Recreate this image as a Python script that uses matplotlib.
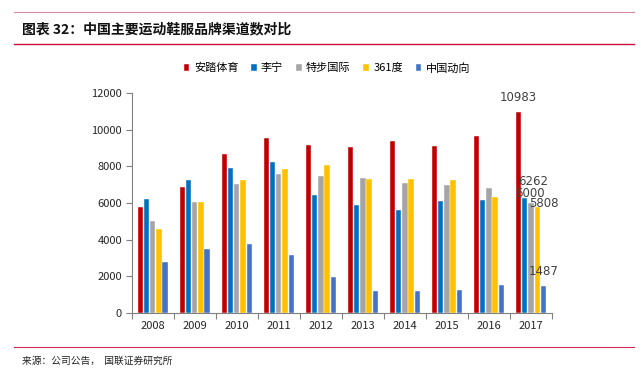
"""
Channel counts of major Chinese sportswear brands
"""

# Imports
import numpy as np
import matplotlib
matplotlib.use("Agg")
import matplotlib.pyplot as plt
from matplotlib.lines import Line2D

plt.rcParams['font.family'] = ['Noto Sans CJK SC', 'DejaVu Sans']

# Data
years = ["2008", "2009", "2010", "2011", "2012", "2013", "2014", "2015", "2016", "2017"]
brands = ["安踏体育", "李宁", "特步国际", "361度", "中国动向"]
anta = [5760, 6860, 8660, 9520, 9190, 9060, 9370, 9100, 9660, 10983]
lining = [6240, 7260, 7920, 8240, 6440, 5910, 5640, 6130, 6160, 6262]
xtep = [5020, 6070, 7060, 7600, 7500, 7350, 7110, 7000, 6800, 6000]
b361 = [4600, 6040, 7260, 7840, 8060, 7300, 7330, 7240, 6350, 5808]
dongxiang = [2790, 3500, 3740, 3140, 1970, 1190, 1190, 1240, 1530, 1487]
colors = ["#C00000", "#0070C0", "#A5A5A5", "#FFC000", "#4472C4"]

series = [anta, lining, xtep, b361, dongxiang]

# Figure
W, H = 641, 375
fig = plt.figure(figsize=(W / 100, H / 100), dpi=100)
ax = fig.add_axes([131.7 / W, 1 - 313 / H, (552 - 131.7) / W, (313 - 93) / H])

x = np.arange(len(years))
step = 0.148
width = 0.128
for j, (name, vals) in enumerate(zip(brands, series)):
    ax.bar(x + (j - 2) * step, vals, width=width, color=colors[j], label=name,
           edgecolor="white", linewidth=0.3)

# 2017 data labels
last = len(years) - 1
labelParams = {"fontsize": 8.5, "color": "#404040", "ha": "center", "va": "center",
               "family": ["DejaVu Sans"], "textcoords": "offset points"}
ax.annotate(str(anta[last]), (last - 2 * step, anta[last]), xytext=(0, 10), **labelParams)
ax.annotate(str(lining[last]), (last - step, lining[last]), xytext=(6, 12), **labelParams)
ax.annotate(str(xtep[last]), (last, xtep[last]), xytext=(-1, 7), **labelParams)
ax.annotate(str(b361[last]), (last + step, b361[last]), xytext=(5, 2), **labelParams)
ax.annotate(str(dongxiang[last]), (last + 2 * step, dongxiang[last]), xytext=(0, 10), **labelParams)

# Axes styling
ax.set_xlim(-0.5, len(years) - 0.5)
ax.set_ylim(0, 12000)
ax.set_yticks(np.arange(0, 12001, 2000))
ax.set_xticks(np.arange(-0.5, len(years), 1.0))
ax.set_xticklabels([])
ax.set_xticks(x, minor=True)
ax.set_xticklabels(years, minor=True)
ax.tick_params(axis="x", which="minor", length=0, pad=6, labelsize=8, labelcolor="#262626")
ax.tick_params(axis="x", which="major", length=4, direction="out", color="#808080")
ax.tick_params(axis="y", length=4, direction="out", color="#808080", labelsize=8,
               labelcolor="#262626", pad=3)
for s in ["top", "right"]:
    ax.spines[s].set_visible(False)
for s in ["left", "bottom"]:
    ax.spines[s].set_color("#808080")
    ax.spines[s].set_linewidth(0.8)

# Legend
fig.legend(loc="center", bbox_to_anchor=(327 / W, 1 - 68 / H), ncol=5, frameon=False,
           fontsize=8, handlelength=0.5, handleheight=0.5, handletextpad=0.4,
           columnspacing=1.15)

# Title and frame lines
fig.add_artist(Line2D([14 / W, 634 / W], [1 - 12 / H, 1 - 12 / H], color="#D98A9C", linewidth=0.8))
fig.add_artist(Line2D([14 / W, 634 / W], [1 - 44 / H, 1 - 44 / H], color="#C8103C", linewidth=1.0))
fig.add_artist(Line2D([14 / W, 634 / W], [1 - 347 / H, 1 - 347 / H], color="#C8305A", linewidth=0.8))
fig.text(22 / W, 1 - 29 / H, "图表 32：中国主要运动鞋服品牌渠道数对比", fontsize=10,
         fontweight="bold", style="italic", va="center", ha="left", color="#111111")
fig.text(22 / W, 1 - 361 / H, "来源：公司公告，  国联证券研究所", fontsize=7,
         va="center", ha="left", color="#222222")

fig.savefig("out.png", dpi=100)
